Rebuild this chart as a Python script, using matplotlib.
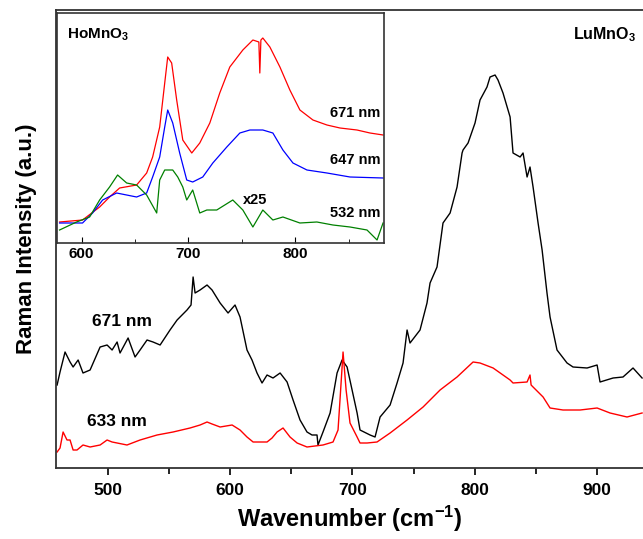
import matplotlib
matplotlib.use("Agg")
import matplotlib.pyplot as plt
from matplotlib.ticker import MultipleLocator

plt.rcParams['font.family'] = ['Liberation Sans', 'DejaVu Sans']
plt.rcParams['mathtext.fontset'] = 'custom'
plt.rcParams['mathtext.rm'] = 'Liberation Sans:bold'
plt.rcParams['mathtext.bf'] = 'Liberation Sans:bold'
plt.rcParams['mathtext.it'] = 'Liberation Sans:bold'

# ---- Main panel: LuMnO3 ----
lu671_x = [458.3, 460.7, 464.8, 468.9, 471.4, 475.5, 479.5, 485.3, 493.5, 499.2, 503.3, 507.4, 509.8,
           516.4, 522.1, 526.2, 531.9, 536.8, 542.6, 550.7, 556.5, 564.6, 567.9, 569.6, 571.2, 575.3,
           581.0, 585.1, 591.7, 598.2, 603.9, 608.0, 613.7, 617.8, 621.9, 626.0, 630.1, 635.0, 640.8,
           646.5, 651.4, 657.1, 662.8, 666.9, 671.0, 671.8, 675.9, 681.7, 687.4, 691.5, 695.6, 699.7,
           703.8, 706.2, 714.4, 718.5, 722.6, 730.8, 736.5, 741.4, 744.7, 747.1, 755.3, 761.0, 763.5,
           769.2, 774.1, 779.9, 785.6, 789.7, 790.5, 794.6, 800.3, 804.4, 810.1, 812.6, 816.7, 819.1,
           823.2, 829.0, 831.4, 837.2, 839.6, 842.9, 845.3, 847.8, 851.9, 855.2, 859.2, 861.7, 867.4,
           875.6, 880.5, 892.0, 900.2, 902.6, 913.3, 921.4, 929.6, 937.0]
lu671_y = [83, 96, 116, 106, 101, 108, 95, 98, 121, 123, 118, 126, 115,
           130, 111, 118, 128, 126, 123, 138, 148, 158, 163, 191, 175, 178,
           183, 178, 165, 155, 163, 151, 118, 108, 95, 85, 93, 90, 95,
           86, 68, 48, 36, 33, 33, 23, 36, 55, 95, 108, 101, 78,
           55, 38, 33, 31, 51, 63, 85, 105, 138, 125, 138, 165, 185,
           201, 245, 255, 281, 315, 318, 325, 345, 368, 381, 391, 393, 388,
           375, 351, 315, 311, 315, 291, 301, 281, 245, 218, 175, 151, 118,
           105, 101, 100, 103, 86, 90, 91, 100, 90]

lu633_x = [458.3, 460.7, 463.2, 466.4, 468.9, 471.4, 474.6, 479.5, 485.3, 493.5, 499.2, 503.3, 507.4,
           515.5, 526.2, 540.1, 553.2, 567.1, 575.3, 581.0, 585.1, 591.7, 601.5, 608.0, 613.7, 618.7,
           630.1, 634.2, 638.3, 643.2, 648.9, 654.7, 662.8, 675.9, 684.1, 688.2, 689.8, 692.3, 694.8,
           698.0, 703.8, 706.2, 712.0, 720.1, 730.8, 744.7, 757.8, 771.7, 785.6, 798.7, 804.4, 815.1,
           829.0, 831.4, 842.9, 845.3, 846.2, 847.8, 856.0, 861.7, 872.3, 886.3, 900.2, 910.8, 924.7,
           937.0]
lu633_y = [16, 20, 36, 28, 28, 18, 18, 23, 21, 23, 28, 26, 25,
           23, 28, 33, 36, 40, 43, 46, 44, 41, 43, 38, 31, 26,
           26, 30, 36, 40, 31, 25, 21, 23, 26, 38, 68, 116, 78,
           45, 31, 25, 25, 26, 35, 48, 61, 78, 91, 106, 105, 100,
           88, 85, 86, 93, 83, 81, 71, 60, 58, 58, 60, 55, 51,
           55]

# ---- Inset: HoMnO3 ----
ho671_x = [579.4, 600.9, 616.9, 626.2, 635.6, 651.5, 660.9, 666.5, 673.1, 677.8, 680.6, 684.3, 689.0,
           694.7, 703.1, 710.6, 720.0, 729.3, 738.7, 750.9, 760.3, 765.9, 766.8, 767.8, 769.6, 776.2,
           785.6, 794.9, 804.3, 816.5, 829.6, 841.8, 857.7, 869.9, 882.1]
ho671_y = [21, 23, 36, 46, 55, 58, 70, 86, 116, 160, 186, 180, 143,
           103, 90, 100, 120, 150, 176, 193, 203, 201, 170, 203, 205, 196,
           176, 153, 133, 123, 118, 115, 113, 110, 108]

ho647_x = [579.4, 600.9, 610.3, 619.7, 632.8, 651.5, 660.9, 666.5, 673.1, 677.8, 680.6, 685.3, 691.8,
           698.4, 704.0, 713.4, 722.8, 735.9, 748.1, 757.5, 769.6, 779.0, 788.4, 797.8, 810.9, 829.6,
           851.2, 882.1]
ho647_y = [20, 20, 30, 43, 50, 46, 50, 66, 86, 116, 133, 120, 90,
           63, 61, 66, 80, 96, 110, 113, 113, 110, 93, 80, 73, 70,
           66, 65]

ho532_x = [579.4, 595.3, 607.5, 616.9, 626.2, 633.7, 642.2, 651.5, 660.9, 670.3, 673.1, 677.8, 685.3,
           690.0, 694.7, 698.4, 704.0, 710.6, 717.2, 726.5, 741.5, 750.9, 760.3, 769.6, 779.0, 788.4,
           804.3, 820.2, 835.2, 851.2, 867.1, 876.5, 882.1]
ho532_y = [13, 21, 26, 43, 56, 68, 60, 58, 48, 30, 63, 73, 73,
           66, 56, 43, 53, 30, 33, 33, 43, 33, 16, 33, 23, 26,
           20, 21, 18, 16, 13, 3, 20]

main_xticks = [500, 600, 700, 800, 900]
inset_xticks = [600, 700, 800]

W, H = 643, 539
fig = plt.figure(figsize=(W / 100, H / 100), dpi=100)

AXW = W - 56
ax = fig.add_axes([56 / W, (H - 468) / H, AXW / W, (468 - 10) / H])
ax.plot(lu671_x, lu671_y, color='black', lw=1.0)
ax.plot(lu633_x, lu633_y, color='red', lw=1.0)
ax.set_xlim(457.4, 457.4 + AXW / 1.222)
ax.set_ylim(0, 458)
ax.set_yticks([])
ax.set_xticks(main_xticks)
ax.xaxis.set_minor_locator(MultipleLocator(50))
ax.tick_params(axis='x', which='major', direction='out', length=5, width=1.2, labelsize=12.5, pad=6)
ax.tick_params(axis='x', which='minor', direction='out', length=4, width=1.2)
for lab in ax.get_xticklabels():
    lab.set_fontweight('bold')
for s in ax.spines.values():
    s.set_color('#333333')
    s.set_linewidth(1.3)
ax.spines['right'].set_visible(False)
ax.set_xlabel('Wavenumber (cm$^{-1}$)', fontsize=17, fontweight='bold', labelpad=4)
ax.set_ylabel('Raman Intensity (a.u.)', fontsize=16, fontweight='bold', labelpad=14)
ax.text((122 - 56) / AXW, (468 - 322) / 458, '671 nm', transform=ax.transAxes, fontsize=12.5,
        fontweight='bold', ha='center', va='center')
ax.text((117 - 56) / AXW, (468 - 421) / 458, '633 nm', transform=ax.transAxes, fontsize=12.5,
        fontweight='bold', ha='center', va='center')
fig.text(636 / W, (H - 35) / H, 'LuMnO$_3$', fontsize=11.5, fontweight='bold',
         ha='right', va='center')

ins = fig.add_axes([57 / W, (H - 243) / H, (384 - 57) / W, (243 - 13) / H])
ins.plot(ho671_x, ho671_y, color='red', lw=0.9)
ins.plot(ho647_x, ho647_y, color='blue', lw=0.9)
ins.plot(ho532_x, ho532_y, color='green', lw=0.9)
ins.set_xlim(577, 883)
ins.set_ylim(0, 230)
ins.set_yticks([])
ins.set_xticks(inset_xticks)
ins.xaxis.set_minor_locator(MultipleLocator(50))
ins.tick_params(axis='x', which='major', direction='in', length=4, labelsize=11, pad=3)
ins.tick_params(axis='x', which='minor', direction='in', length=3)
for lab in ins.get_xticklabels():
    lab.set_fontweight('bold')
for s in ins.spines.values():
    s.set_color('#333333')
    s.set_linewidth(1.2)
ins.text(0.03, (243 - 35) / 230, 'HoMnO$_3$', transform=ins.transAxes, fontsize=11,
         fontweight='bold', ha='left', va='center')
ins.text((355 - 57) / 327, (243 - 113) / 230, '671 nm', transform=ins.transAxes, fontsize=10.5,
         fontweight='bold', ha='center', va='center')
ins.text((355 - 57) / 327, (243 - 160) / 230, '647 nm', transform=ins.transAxes, fontsize=10.5,
         fontweight='bold', ha='center', va='center')
ins.text((355 - 57) / 327, (243 - 213) / 230, '532 nm', transform=ins.transAxes, fontsize=10.5,
         fontweight='bold', ha='center', va='center')
ins.text((255 - 57) / 327, (243 - 200) / 230, 'x25', transform=ins.transAxes, fontsize=10.5,
         fontweight='bold', ha='center', va='center')

fig.savefig('out.png', dpi=100)
